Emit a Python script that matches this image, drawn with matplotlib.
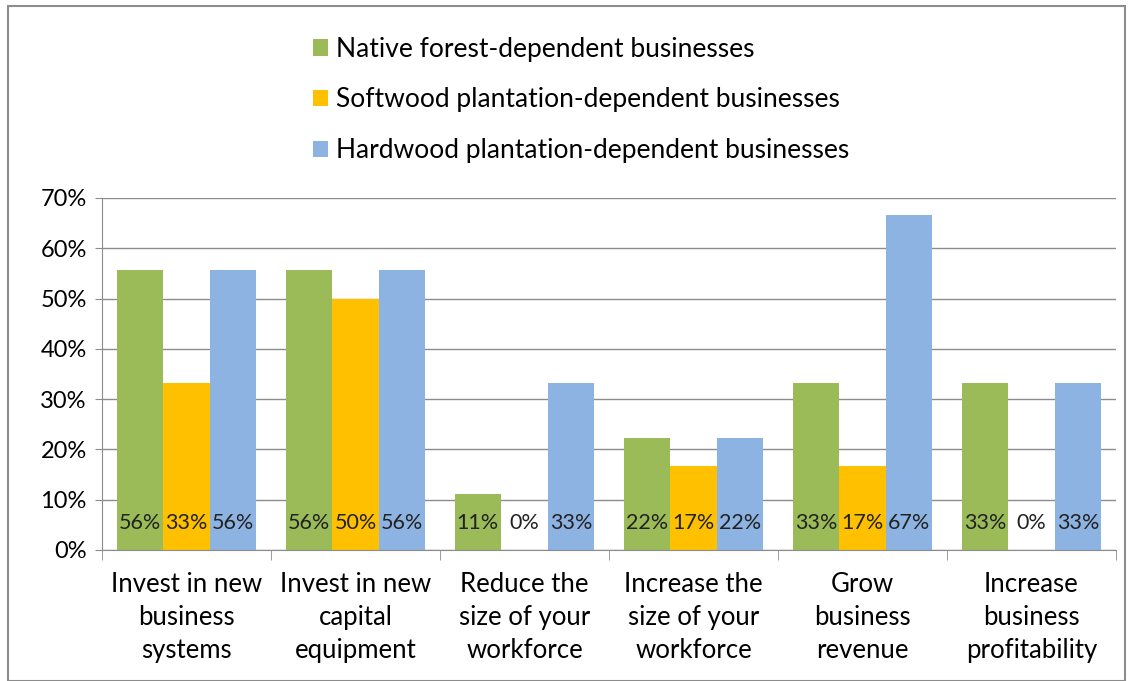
import numpy as np
import matplotlib.pyplot as plt
from matplotlib.patches import Rectangle

plt.rcParams['font.family'] = ['Lato', 'DejaVu Sans']

categories = ["Invest in new\nbusiness\nsystems", "Invest in new\ncapital\nequipment",
              "Reduce the\nsize of your\nworkforce", "Increase the\nsize of your\nworkforce",
              "Grow\nbusiness\nrevenue", "Increase\nbusiness\nprofitability"]
series = ["Native forest-dependent businesses",
          "Softwood plantation-dependent businesses",
          "Hardwood plantation-dependent businesses"]
native = [0.556, 0.556, 0.111, 0.222, 0.333, 0.333]
softwood = [0.333, 0.500, 0.0, 0.167, 0.167, 0.0]
hardwood = [0.556, 0.556, 0.333, 0.222, 0.667, 0.333]
colors = ["#9bbb59", "#ffc000", "#8db3e2"]

fig = plt.figure(figsize=(11.33, 6.81), dpi=100)
ax = fig.add_axes([102 / 1133, 1 - 550 / 681, (1116 - 102) / 1133, (550 - 198) / 681])

x = np.arange(len(categories))
w = 0.276
for i, (vals, c, name) in enumerate(zip([native, softwood, hardwood], colors, series)):
    pos = x + (i - 1) * w
    ax.bar(pos, vals, width=w, color=c, label=name, zorder=2)
    for p, v in zip(pos, vals):
        ax.text(p, 0.054, f"{v:.0%}", ha='center', va='center', fontsize=15.5,
                color='#222222', zorder=3)

ax.set_xlim(-0.5, len(categories) - 0.5)
ax.set_ylim(0, 0.7)
ax.set_yticks(np.arange(0, 0.71, 0.1))
ax.set_yticklabels([f"{int(round(t * 100))}%" for t in np.arange(0, 0.71, 0.1)], fontsize=17)
ax.yaxis.grid(True, color='#8c8c8c', linewidth=1, zorder=0)
ax.set_axisbelow(True)

ax.set_xticks(x)
ax.set_xticklabels(categories, fontsize=18.5, linespacing=1.4)
ax.tick_params(axis='x', length=0, pad=16)
ax.set_xticks(np.arange(-0.5, len(categories), 1), minor=True)
ax.tick_params(axis='x', which='minor', length=7, color='#8c8c8c')
ax.tick_params(axis='y', length=5, color='#8c8c8c', pad=6)

for s in ['top', 'right']:
    ax.spines[s].set_visible(False)
for s in ['left', 'bottom']:
    ax.spines[s].set_color('#8c8c8c')

fig.legend(loc='upper left', bbox_to_anchor=(289 / 1133, 1 - 13 / 681), frameon=False,
           fontsize=19, labelspacing=0.97, handlelength=0.57, handleheight=0.57,
           handletextpad=0.3)

fig.patches.append(Rectangle((8 / 1133, 0), (1125 - 8) / 1133, 1 - 6 / 681,
                             transform=fig.transFigure, fill=False,
                             edgecolor='#8c8c8c', linewidth=1.5))

fig.savefig("out.png", dpi=100)
